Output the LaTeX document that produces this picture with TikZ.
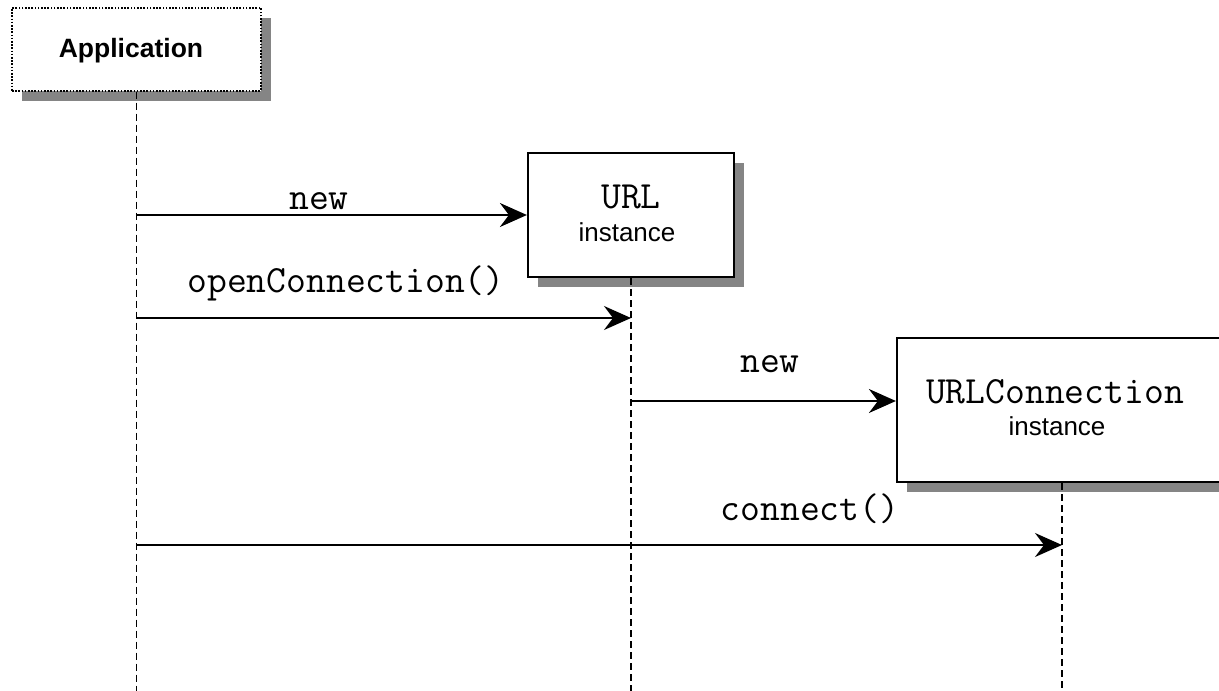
\documentclass[tikz,border=0pt]{standalone}
\usepackage{fontspec}
\setmainfont{Liberation Sans}
\usetikzlibrary{arrows.meta,shadows}
\tikzset{
  objbox/.style={draw=black, line width=2.2pt, fill=white, inner sep=0pt,
    drop shadow={shadow xshift=10pt, shadow yshift=-10pt, fill=black!48, opacity=1}},
  actorbox/.style={objbox, dash pattern=on 1.6pt off 1.6pt, line width=2pt},
  lifeline/.style={draw=black, line width=1.4pt, dash pattern=on 7pt off 4pt},
  msg/.style={draw=black, line width=1.8pt,
    -{Stealth[length=27pt, width=24pt, inset=9pt]}},
  codelbl/.style={font=\ttfamily\fontsize{38.5}{42}\selectfont, inner sep=0pt},
  sanslbl/.style={font=\fontsize{26}{30}\selectfont, inner sep=0pt},
}
\begin{document}
\begin{tikzpicture}[x=1pt, y=-1pt]
  \useasboundingbox (0,0) rectangle (1219,691);
  \clip (0,0) rectangle (1219,691);
  \fill[white] (0,0) rectangle (1219,691);

  % participants
  \node[actorbox, minimum width=249pt, minimum height=83pt] (app) at (136.5,49) {};
  \node[font=\bfseries\fontsize{26.5}{30}\selectfont, inner sep=0pt] (appname) at (131,51) {Application};

  \node[objbox, minimum width=206pt, minimum height=124pt] (url) at (631,215) {};
  \node[codelbl] (urlname) at (631,197) {URL};
  \node[sanslbl] (urlkind) at (627,232) {instance};

  \node[objbox, minimum width=330pt, minimum height=144pt] (conn) at (1062,410) {};
  \node[codelbl] (connname) at (1055,392) {URLConnection};
  \node[sanslbl] (connkind) at (1057,426) {instance};

  % message rows and lifeline ends
  \coordinate (row2) at (0,318);
  \coordinate (row3) at (0,401);
  \coordinate (row4) at (0,545);
  \coordinate (bottom) at (0,691);

  % lifelines
  \draw[lifeline] (app.south) -- (app.south |- bottom);
  \draw[lifeline] (url.south) -- (url.south |- bottom);
  \draw[lifeline] (conn.south) -- (conn.south |- bottom);

  % messages
  \draw[msg] (app.south |- url.west) -- (url.west);
  \node[codelbl] (lblnew) at (319,201) {new};

  \draw[msg] (app.south |- row2) -- (url.south |- row2);
  \node[codelbl] (lblopen) at (346,283) {openConnection()};

  \draw[msg] (url.south |- row3) -- (conn.west |- row3);
  \node[codelbl] (lblnew2) at (770,364) {new};

  \draw[msg] (app.south |- row4) -- (conn.south |- row4);
  \node[codelbl] (lblconnect) at (810,509) {connect()};
\end{tikzpicture}
\end{document}
